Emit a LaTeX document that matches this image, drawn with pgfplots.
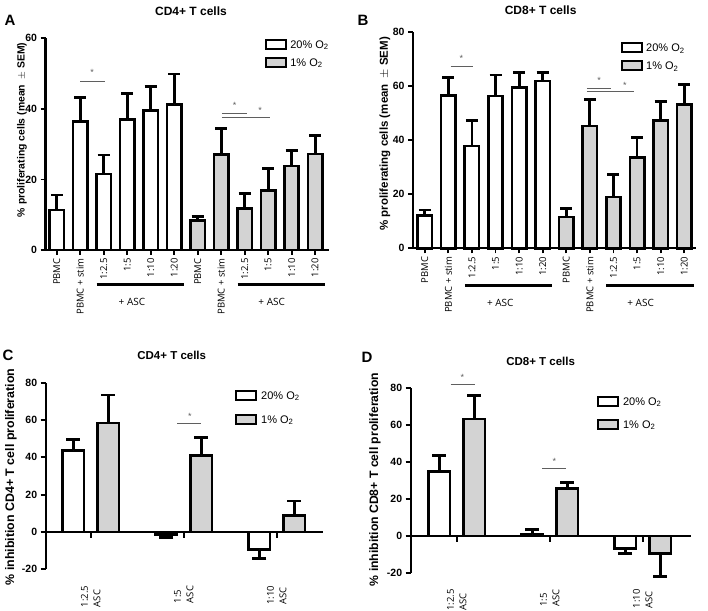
\documentclass[border=0pt]{standalone}
\usepackage{fontspec}
\setmainfont{Liberation Sans}
\newfontfamily\tickfont{Open Sans}
\usepackage{pgfplots}
\pgfplotsset{compat=1.18}
\definecolor{barfill}{RGB}{211,211,211}
\definecolor{sig}{RGB}{95,95,95}
\newcommand\tf[1]{\fontsize{#1}{#1}\selectfont}

\tikzset{siglabel/.style={text=sig, font=\tf{9}}}
\pgfplotsset{
  panel/.style={
    scale only axis, axis lines=left, enlargelimits=false, clip=false,
    axis line style={line width=2.2pt, -},
    tick style={line width=1.8pt, black},
    major tick length=5pt, tick align=outside,
    /pgf/number format/assume math mode=true,
    yticklabel style={font=\tf{10.5}\bfseries},
    legend cell align=left,
    every axis title shift=0pt,
  },
  leg20/.style={legend image code/.code={\draw[fill=white,draw=black,line width=2pt] (0pt,-4.5pt) rectangle (20pt,4.5pt);}},
  leg1/.style={legend image code/.code={\draw[fill=barfill,draw=black,line width=2pt] (0pt,-4.5pt) rectangle (20pt,4.5pt);}},
  errup/.style={error bars/.cd, y dir=plus, y explicit, error bar style={line width=2.8pt},
    error mark options={rotate=90, mark size=#1, line width=2.8pt}},
  errdn/.style={error bars/.cd, y dir=minus, y explicit, error bar style={line width=2.8pt},
    error mark options={rotate=90, mark size=#1, line width=2.8pt}},
  barA/.style={ybar, bar shift=0pt, bar width=0.61, draw=black, line width=2.6pt},
  barC/.style={ybar, bar shift=0pt, bar width=0.23, draw=black, line width=2.6pt},
}

\begin{document}
\begin{tikzpicture}
\useasboundingbox (0,0) rectangle (708pt,610pt);

% ---------- A ----------
\begin{axis}[panel, at={(45.5pt,360pt)}, anchor=south west,
  width=283pt, height=211.7pt,
  xmin=-0.48, xmax=11.57, ymin=0, ymax=60, ytick={0,20,40,60},
  xtick={0,...,11},
  xticklabels={PBMC,PBMC + stim,1:2.5,1:5,1:10,1:20,PBMC,PBMC + stim,1:2.5,1:5,1:10,1:20},
  xticklabel style={rotate=90, anchor=east, font=\tickfont\tf{9.5}},
  ylabel={\% proliferating cells (mean\enspace$\pm$ SEM)},
  ylabel style={at={(rel axis cs:-0.083,0.567)}, anchor=center, font=\tf{10.4}\bfseries},
  title={CD4+ T cells},
  title style={at={(rel axis cs:0.514,1.129)}, anchor=center, font=\tf{12}\bfseries},
  legend style={at={(rel axis cs:0.776,0.996)}, anchor=north west, draw=none, fill=none,
    inner sep=0pt, row sep=7pt, column sep=3pt, font=\tf{11},
    nodes={inner sep=0pt, text height=8pt, text depth=1pt}},
]
\addlegendimage{leg20}\addlegendentry{20\% O\textsubscript{2}}
\addlegendimage{leg1}\addlegendentry{1\% O\textsubscript{2}}
\addplot[barA, fill=white, errup=6pt] coordinates {
  (0,11.3) +- (0,4.3) (1,36.4) +- (0,6.8) (2,21.5) +- (0,5.4)
  (3,37.0) +- (0,7.3) (4,39.5) +- (0,6.8) (5,41.3) +- (0,8.6)};
\addplot[barA, fill=barfill, errup=6pt] coordinates {
  (6,8.3) +- (0,1.3) (7,27.1) +- (0,7.4) (8,11.7) +- (0,4.4)
  (9,16.8) +- (0,6.4) (10,23.8) +- (0,4.4) (11,27.2) +- (0,5.2)};
\draw[sig, line width=0.9pt] (axis cs:1,47.9) -- (axis cs:2.05,47.9);
\node[siglabel] at (axis cs:1.5,50.2) {*};
\draw[sig, line width=0.9pt] (axis cs:7.03,38.8) -- (axis cs:8.09,38.8);
\draw[sig, line width=0.9pt] (axis cs:7.03,37.6) -- (axis cs:9.08,37.6);
\node[siglabel] at (axis cs:7.57,41.0) {*};
\node[siglabel] at (axis cs:8.66,39.6) {*};
\draw[line width=3pt] (axis cs:1.7,-9.9) -- (axis cs:5.4,-9.9);
\draw[line width=3pt] (axis cs:7.7,-9.9) -- (axis cs:11.4,-9.9);
\node[font=\tickfont\tf{10}] at (axis cs:3.2,-14.8) {+ ASC};
\node[font=\tickfont\tf{10}] at (axis cs:9.15,-14.8) {+ ASC};
\end{axis}
\node[font=\tf{15}\bfseries] at (10pt,590pt) {A};

% ---------- B ----------
\begin{axis}[panel, at={(413pt,361.7pt)}, anchor=south west,
  width=283pt, height=216pt,
  xmin=-0.5, xmax=11.5, ymin=0, ymax=80, ytick={0,20,40,60,80},
  xtick={0,...,11},
  xticklabels={PBMC,PBMC + stim,1:2.5,1:5,1:10,1:20,PBMC,PBMC + stim,1:2.5,1:5,1:10,1:20},
  xticklabel style={rotate=90, anchor=east, font=\tickfont\tf{9.5}},
  ylabel={\% proliferating cells (mean\enspace$\pm$ SEM)},
  ylabel style={at={(rel axis cs:-0.099,0.53)}, anchor=center, font=\tf{11.5}\bfseries},
  title={CD8+ T cells},
  title style={at={(rel axis cs:0.451,1.103)}, anchor=center, font=\tf{12}\bfseries},
  legend style={at={(rel axis cs:0.735,0.954)}, anchor=north west, draw=none, fill=none,
    inner sep=0pt, row sep=7pt, column sep=3pt, font=\tf{11},
    nodes={inner sep=0pt, text height=8pt, text depth=1pt}},
]
\addlegendimage{leg20}\addlegendentry{20\% O\textsubscript{2}}
\addlegendimage{leg1}\addlegendentry{1\% O\textsubscript{2}}
\addplot[barA, fill=white, errup=6pt] coordinates {
  (0,12.1) +- (0,2.1) (1,56.5) +- (0,6.7) (2,37.9) +- (0,9.4)
  (3,56.4) +- (0,7.8) (4,59.5) +- (0,5.7) (5,62.0) +- (0,3.2)};
\addplot[barA, fill=barfill, errup=6pt] coordinates {
  (6,11.6) +- (0,3.2) (7,45.3) +- (0,9.9) (8,19.0) +- (0,8.2)
  (9,33.6) +- (0,7.5) (10,47.3) +- (0,7.0) (11,53.2) +- (0,7.5)};
\draw[sig, line width=0.9pt] (axis cs:1.09,67.3) -- (axis cs:2.05,67.3);
\node[siglabel] at (axis cs:1.55,70.2) {*};
\draw[sig, line width=0.9pt] (axis cs:6.87,59.3) -- (axis cs:7.89,59.3);
\draw[sig, line width=0.9pt] (axis cs:6.87,58.0) -- (axis cs:8.87,58.0);
\node[siglabel] at (axis cs:7.39,62.0) {*};
\node[siglabel] at (axis cs:8.48,60.4) {*};
\draw[line width=3pt] (axis cs:1.7,-13.6) -- (axis cs:5.4,-13.6);
\draw[line width=3pt] (axis cs:7.7,-13.6) -- (axis cs:11.4,-13.6);
\node[font=\tickfont\tf{10}] at (axis cs:3.2,-20.3) {+ ASC};
\node[font=\tickfont\tf{10}] at (axis cs:9.15,-20.3) {+ ASC};
\end{axis}
\node[font=\tf{15}\bfseries] at (363pt,590pt) {B};

% ---------- C ----------
\begin{axis}[panel, at={(45.7pt,40.7pt)}, anchor=south west,
  width=277.6pt, height=186.6pt,
  xmin=0.516, xmax=3.5, ymin=-20, ymax=80, ytick={-20,0,20,40,60,80},
  xtick={1,2,3},
  xticklabels={{1:2.5\\ASC},{1:5\\ASC},{1:10\\ASC}},
  x axis line style={draw=none}, xtick style={draw=none},
  xticklabel style={rotate=90, anchor=east, align=left, font=\tickfont\fontsize{9.5}{12.5}\selectfont},
  xticklabel shift=8pt,
  ylabel={\% inhibition CD4+ T cell proliferation},
  ylabel style={at={(rel axis cs:-0.125,0.495)}, anchor=center, font=\tf{12.4}\bfseries},
  title={CD4+ T cells},
  title style={at={(rel axis cs:0.454,1.148)}, anchor=center, font=\tf{11.5}\bfseries},
  legend style={at={(rel axis cs:0.682,0.961)}, anchor=north west, draw=none, fill=none,
    inner sep=0pt, row sep=13pt, column sep=4pt, font=\tf{11},
    nodes={inner sep=0pt, text height=8pt, text depth=1pt}},
]
\addlegendimage{leg20}\addlegendentry{20\% O\textsubscript{2}}
\addlegendimage{leg1}\addlegendentry{1\% O\textsubscript{2}}
\draw[line width=2.2pt] (axis cs:0.516,0) -- (axis cs:3.5,0);
\draw[line width=1.8pt] (axis cs:1,0) -- (axis cs:1,-3.3);
\draw[line width=1.8pt] (axis cs:2,0) -- (axis cs:2,-3.3);
\draw[line width=1.8pt] (axis cs:3,0) -- (axis cs:3,-3.3);
\addplot[barC, fill=white, errup=7pt] coordinates {(0.812,43.7) +- (0,5.9)};
\addplot[barC, fill=white, errdn=7pt] coordinates {
  (1.812,-1.2) +- (0,1.8) (2.812,-9.4) +- (0,4.9)};
\addplot[barC, fill=barfill, errup=7pt] coordinates {
  (1.188,58.3) +- (0,15.1) (2.188,41.0) +- (0,9.8) (3.188,8.7) +- (0,7.9)};
\draw[sig, line width=0.9pt] (axis cs:1.932,58.1) -- (axis cs:2.19,58.1);
\node[siglabel] at (axis cs:2.065,62.0) {*};
\end{axis}
\node[font=\tf{15}\bfseries] at (8pt,255pt) {C};

% ---------- D ----------
\begin{axis}[panel, at={(410.7pt,37pt)}, anchor=south west,
  width=280pt, height=184.7pt,
  xmin=0.505, xmax=3.516, ymin=-20, ymax=80, ytick={-20,0,20,40,60,80},
  xtick={1,2,3},
  xticklabels={{1:2.5\\ASC},{1:5\\ASC},{1:10\\ASC}},
  x axis line style={draw=none}, xtick style={draw=none},
  xticklabel style={rotate=90, anchor=east, align=left, font=\tickfont\fontsize{9.5}{12.5}\selectfont},
  xticklabel shift=8pt,
  ylabel={\% inhibition CD8+ T cell proliferation},
  ylabel style={at={(rel axis cs:-0.1275,0.506)}, anchor=center, font=\tf{12.2}\bfseries},
  title={CD8+ T cells},
  title style={at={(rel axis cs:0.464,1.144)}, anchor=center, font=\tf{11.5}\bfseries},
  legend style={at={(rel axis cs:0.665,0.958)}, anchor=north west, draw=none, fill=none,
    inner sep=0pt, row sep=12pt, column sep=4pt, font=\tf{11},
    nodes={inner sep=0pt, text height=8pt, text depth=1pt}},
]
\addlegendimage{leg20}\addlegendentry{20\% O\textsubscript{2}}
\addlegendimage{leg1}\addlegendentry{1\% O\textsubscript{2}}
\draw[line width=2.2pt] (axis cs:0.505,0) -- (axis cs:3.516,0);
\draw[line width=1.8pt] (axis cs:1,0) -- (axis cs:1,-3.3);
\draw[line width=1.8pt] (axis cs:2,0) -- (axis cs:2,-3.3);
\draw[line width=1.8pt] (axis cs:3,0) -- (axis cs:3,-3.3);
\addplot[barC, fill=white, errup=7pt] coordinates {
  (0.812,34.8) +- (0,8.9) (1.812,0.9) +- (0,2.5)};
\addplot[barC, fill=white, errdn=7pt] coordinates {(2.812,-6.7) +- (0,2.7)};
\addplot[barC, fill=barfill, errup=7pt] coordinates {
  (1.188,63.4) +- (0,12.6) (2.188,25.8) +- (0,3.3)};
\addplot[barC, fill=barfill, errdn=7pt] coordinates {(3.188,-9.4) +- (0,12.3)};
\draw[sig, line width=0.9pt] (axis cs:0.935,82.3) -- (axis cs:1.193,82.3);
\node[siglabel] at (axis cs:1.06,86.0) {*};
\draw[sig, line width=0.9pt] (axis cs:1.92,36.6) -- (axis cs:2.18,36.6);
\node[siglabel] at (axis cs:2.05,40.2) {*};
\end{axis}
\node[font=\tf{15}\bfseries] at (367pt,253pt) {D};
\end{tikzpicture}
\end{document}
